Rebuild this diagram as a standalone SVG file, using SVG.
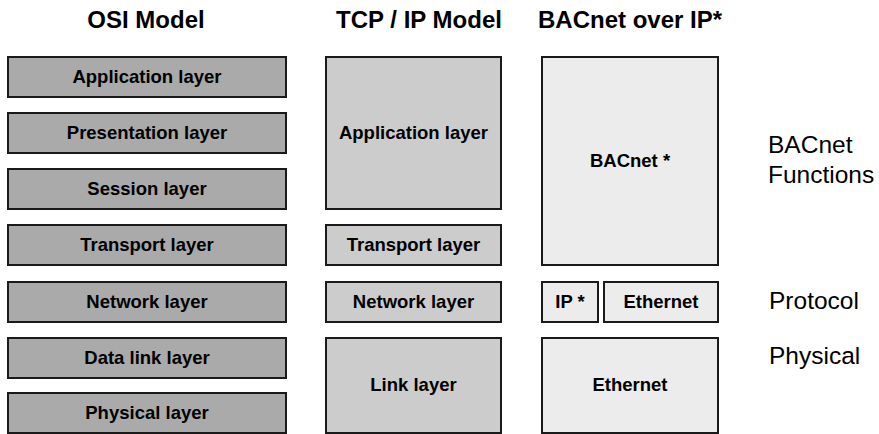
<svg xmlns="http://www.w3.org/2000/svg" width="879" height="434" viewBox="0 0 879 434">
<style>
rect{stroke:#1a1a1a;stroke-width:2}
.osi{fill:#aaaaaa}
.tcp{fill:#cccccc}
.bac{fill:#ececec}
text{font-family:"Liberation Sans",Arial,sans-serif;fill:#000}
.lbl{font-size:18.5px;font-weight:bold;text-anchor:middle}
.ttl{font-size:24px;font-weight:bold;text-anchor:middle}
.side{font-size:24.5px}
</style>
<rect x="0" y="0" width="879" height="434" style="fill:#fff;stroke:none"/>
<g id="titles">
<text class="ttl" x="146" y="28">OSI Model</text>
<text class="ttl" x="419" y="28">TCP / IP Model</text>
<text class="ttl" x="630" y="28">BACnet over IP*</text>
</g>
<g id="osi-application"><rect class="osi" x="8" y="57" width="278" height="40"/><text class="lbl" x="147" y="83">Application layer</text></g>
<g id="osi-presentation"><rect class="osi" x="8" y="113" width="278" height="40"/><text class="lbl" x="147" y="139">Presentation layer</text></g>
<g id="osi-session"><rect class="osi" x="8" y="169" width="278" height="40"/><text class="lbl" x="147" y="195">Session layer</text></g>
<g id="osi-transport"><rect class="osi" x="8" y="225" width="278" height="40"/><text class="lbl" x="147" y="251">Transport layer</text></g>
<g id="osi-network"><rect class="osi" x="8" y="282" width="278" height="40"/><text class="lbl" x="147" y="308">Network layer</text></g>
<g id="osi-datalink"><rect class="osi" x="8" y="338" width="278" height="40"/><text class="lbl" x="147" y="364">Data link layer</text></g>
<g id="osi-physical"><rect class="osi" x="8" y="393" width="278" height="40"/><text class="lbl" x="147" y="419">Physical layer</text></g>
<g id="tcp-application"><rect class="tcp" x="326" y="57" width="175" height="152"/><text class="lbl" x="413.5" y="139">Application layer</text></g>
<g id="tcp-transport"><rect class="tcp" x="326" y="225" width="175" height="40"/><text class="lbl" x="413.5" y="251">Transport layer</text></g>
<g id="tcp-network"><rect class="tcp" x="326" y="282" width="175" height="40"/><text class="lbl" x="413.5" y="308">Network layer</text></g>
<g id="tcp-link"><rect class="tcp" x="326" y="338" width="175" height="95"/><text class="lbl" x="413.5" y="391">Link layer</text></g>
<g id="bac-bacnet"><rect class="bac" x="542" y="57" width="176" height="208"/><text class="lbl" x="630" y="167">BACnet *</text></g>
<g id="bac-ip"><rect class="bac" x="542" y="282" width="56" height="40"/><text class="lbl" x="570" y="308">IP *</text></g>
<g id="bac-ethernet-protocol"><rect class="bac" x="604" y="282" width="114" height="40"/><text class="lbl" x="661" y="308">Ethernet</text></g>
<g id="bac-ethernet-physical"><rect class="bac" x="542" y="338" width="176" height="95"/><text class="lbl" x="630" y="391">Ethernet</text></g>
<g id="side-labels">
<text class="side" x="768" y="153">BACnet</text>
<text class="side" x="768" y="183">Functions</text>
<text class="side" x="769" y="309">Protocol</text>
<text class="side" x="769" y="364">Physical</text>
</g>
<g id="connectors"></g>
</svg>
